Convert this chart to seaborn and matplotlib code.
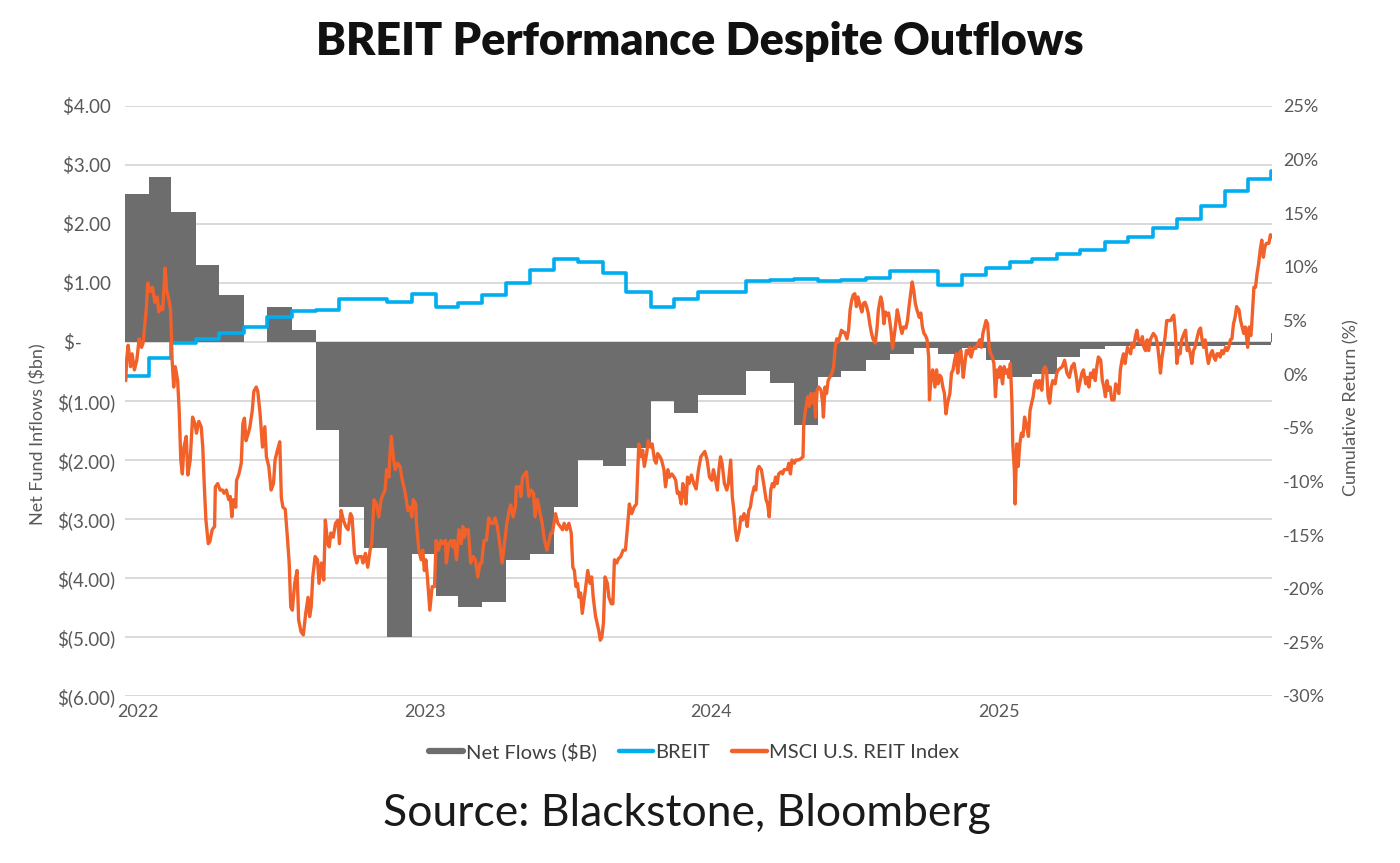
import numpy as np
import pandas as pd
import matplotlib
matplotlib.use("Agg")
import matplotlib.pyplot as plt
import matplotlib.transforms as mtrans
from matplotlib.lines import Line2D
import seaborn as sns

# ---------------- data ----------------
month_starts = pd.date_range("2022-01-01", periods=48, freq="MS")

net_flows = [2.5, 2.8, 2.2, 1.3, 0.8, 0.0, 0.6, 0.2,
             -1.5, -2.8, -3.5, -5.0,
             -3.6, -4.3, -4.5, -4.4, -3.7, -3.6, -2.8, -2.0, -2.1, -1.8, -1.0, -1.2,
             -0.9, -0.9, -0.5, -0.7, -1.4, -0.6, -0.5, -0.3, -0.2, -0.1, -0.2, -0.1,
             -0.3, -0.6, -0.55, -0.25, -0.12, -0.07, -0.07, -0.07, -0.07, -0.06, -0.05, -0.05]
net_flow_final = 0.15

breit = [-0.2, 1.5, 2.9, 3.3, 3.8, 4.4, 5.3, 5.9, 6.0, 7.0, 7.0, 6.7,
         7.5, 6.3, 6.6, 7.4, 8.5, 9.7, 10.7, 10.5, 9.4, 7.7, 6.3, 7.0,
         7.7, 7.7, 8.7, 8.8, 8.9, 8.7, 8.8, 9.0, 9.6, 9.6, 8.3, 9.2,
         9.9, 10.5, 10.7, 11.2, 11.6, 12.3, 12.8, 13.6, 14.5, 15.7, 17.1, 18.2]
breit_final = 18.9

final_date = "2025-12-30"
end_date = "2025-12-31"

msci_start = "2022-01-02"
msci_day = [0, 1, 3, 6, 8, 11, 14, 17, 20, 22, 24, 26, 28, 31, 34, 37, 40, 42, 45, 47, 50, 52, 55, 57, 59, 61, 63, 66, 68, 70,
            72, 74, 77, 79, 82, 85, 88, 90, 93, 96, 98, 100, 102, 105, 107, 110, 113, 114, 117, 120, 123, 125, 128, 131, 133,
            135, 137, 140, 141, 144, 147, 149, 151, 153, 156, 158, 161, 163, 166, 168, 171, 174, 177, 179, 182, 185, 188, 190,
            193, 196, 198, 200, 203, 206, 208, 210, 212, 215, 218, 220, 223, 226, 229, 232, 234, 236, 238, 241, 244, 246, 249,
            252, 254, 257, 259, 261, 264, 267, 270, 272, 274, 277, 280, 283, 286, 288, 291, 294, 296, 300, 302, 305, 308, 311,
            313, 316, 319, 322, 325, 328, 330, 332, 335, 336, 338, 341, 343, 346, 349, 352, 355, 357, 359, 362, 364, 366, 369,
            370, 373, 376, 378, 380, 382, 384, 387, 390, 393, 395, 398, 401, 403, 407, 408, 411, 414, 416, 418, 421, 424, 427,
            429, 431, 433, 436, 439, 442, 445, 448, 451, 453, 456, 459, 462, 465, 468, 470, 473, 476, 479, 482, 485, 488, 490,
            493, 496, 497, 501, 503, 505, 508, 510, 513, 516, 519, 521, 524, 527, 530, 533, 536, 538, 541, 543, 547, 550, 553,
            556, 558, 561, 564, 567, 569, 571, 573, 575, 577, 579, 581, 585, 588, 591, 593, 595, 598, 599, 602, 604, 606, 608,
            610, 613, 615, 618, 620, 622, 625, 627, 630, 633, 636, 639, 641, 644, 647, 650, 653, 656, 658, 660, 663, 665, 668,
            670, 673, 675, 677, 680, 682, 685, 687, 690, 692, 695, 698, 700, 702, 704, 707, 709, 711, 713, 715, 717, 720, 723,
            726, 729, 732, 735, 737, 740, 743, 746, 748, 750, 753, 755, 757, 759, 762, 765, 767, 770, 772, 774, 776, 778, 781,
            783, 785, 787, 789, 791, 793, 795, 797, 800, 802, 804, 806, 809, 812, 815, 817, 819, 821, 823, 825, 827, 829, 831,
            834, 836, 838, 840, 842, 844, 846, 848, 851, 853, 856, 859, 862, 863, 865, 868, 870, 872, 874, 876, 878, 880, 882,
            885, 887, 888, 890, 892, 894, 896, 899, 901, 903, 905, 907, 909, 911, 913, 915, 918, 920, 922, 924, 926, 928, 930,
            932, 935, 937, 939, 941, 943, 945, 947, 949, 951, 954, 956, 958, 961, 963, 965, 967, 969, 971, 974, 976, 978, 980,
            982, 984, 986, 988, 990, 993, 995, 997, 999, 1001, 1003, 1005, 1007, 1010, 1012, 1014, 1016, 1018, 1020, 1022, 1023,
            1025, 1027, 1030, 1032, 1034, 1036, 1038, 1040, 1042, 1044, 1046, 1049, 1051, 1053, 1055, 1057, 1059, 1061, 1063,
            1066, 1068, 1070, 1072, 1074, 1076, 1078, 1080, 1082, 1085, 1087, 1089, 1091, 1093, 1095, 1097, 1099, 1101, 1103,
            1105, 1107, 1109, 1111, 1113, 1116, 1118, 1120, 1122, 1124, 1126, 1128, 1129, 1131, 1132, 1134, 1136, 1138, 1140,
            1142, 1144, 1146, 1149, 1151, 1153, 1155, 1157, 1159, 1161, 1163, 1166, 1168, 1170, 1172, 1174, 1176, 1178, 1180,
            1183, 1185, 1187, 1192, 1195, 1198, 1201, 1204, 1207, 1210, 1212, 1214, 1217, 1219, 1222, 1224, 1226, 1228, 1230,
            1232, 1234, 1236, 1238, 1241, 1243, 1245, 1247, 1249, 1251, 1253, 1255, 1258, 1260, 1262, 1264, 1266, 1268, 1270,
            1272, 1275, 1277, 1279, 1281, 1283, 1285, 1287, 1289, 1292, 1294, 1296, 1298, 1300, 1302, 1304, 1306, 1308, 1311,
            1313, 1315, 1317, 1319, 1321, 1323, 1325, 1328, 1330, 1332, 1334, 1336, 1338, 1340, 1342, 1344, 1347, 1349, 1351,
            1353, 1355, 1357, 1359, 1361, 1363, 1366, 1368, 1370, 1372, 1374, 1376, 1378, 1381, 1383, 1385, 1387, 1389, 1391,
            1393, 1395, 1397, 1400, 1402, 1404, 1406, 1408, 1410, 1412, 1414, 1417, 1419, 1421, 1423, 1425, 1427, 1428, 1430,
            1432, 1433, 1436, 1438, 1440, 1442, 1444, 1446, 1448, 1450, 1452, 1455, 1457, 1459]
msci_pct = [-0.6, 1.3, 2.7, 0.7, 1.9, 0.4, 1.3, 3.3, 2.5, 2.9, 4.4, 6.0, 8.5, 7.7, 8.1, 6.7, 7.2, 5.8, 6.3, 6.0, 9.9, 7.8, 6.9, 6.0,
            1.3, -1.2, 0.7, -0.6, -3.4, -8.0, -9.3, -6.8, -5.8, -9.4, -8.0, -4.0, -4.6, -5.5, -4.4, -4.9, -6.8, -10.5, -13.6,
            -15.8, -15.6, -14.5, -14.2, -10.5, -10.2, -10.8, -10.8, -11.1, -10.8, -11.7, -11.4, -13.3, -11.7, -12.4, -9.9, -9.3,
            -8.3, -4.6, -4.1, -6.2, -5.5, -4.9, -3.4, -1.6, -1.2, -1.6, -3.7, -6.8, -4.9, -7.7, -8.6, -10.8, -10.2, -8.0, -7.1,
            -6.3, -11.5, -12.4, -12.6, -15.5, -17.6, -21.7, -22.0, -19.5, -18.3, -22.9, -24.0, -24.3, -22.3, -20.8, -22.6, -21.7,
            -18.9, -17.0, -17.3, -19.5, -17.6, -19.2, -13.6, -15.8, -16.1, -14.8, -15.2, -13.9, -13.6, -15.8, -12.7, -13.6, -14.2,
            -14.5, -13.0, -13.3, -16.7, -17.6, -17.0, -17.0, -17.6, -16.7, -18.0, -16.4, -15.8, -11.7, -12.1, -13.3, -11.7, -11.1,
            -10.8, -8.9, -9.6, -7.7, -5.8, -8.0, -8.9, -8.3, -8.6, -9.9, -10.8, -11.7, -12.7, -12.4, -13.3, -11.7, -12.1, -13.9,
            -16.4, -17.3, -16.4, -18.3, -17.3, -19.0, -22.0, -19.8, -19.8, -15.5, -16.4, -15.5, -15.8, -15.5, -17.6, -15.8, -15.5,
            -16.1, -15.5, -17.3, -14.5, -15.8, -14.2, -15.2, -14.5, -14.5, -17.6, -17.0, -17.3, -18.9, -17.6, -17.6, -15.5, -15.5,
            -13.4, -13.9, -13.9, -13.4, -14.2, -15.8, -17.6, -15.8, -13.9, -12.7, -12.2, -13.3, -12.4, -10.5, -10.5, -11.4, -9.6,
            -9.3, -9.1, -11.4, -10.8, -11.1, -13.3, -11.7, -12.8, -13.9, -15.5, -16.4, -15.8, -14.8, -14.8, -13.0, -13.9, -14.2,
            -14.5, -13.9, -14.5, -13.9, -14.8, -18.0, -18.3, -19.8, -19.5, -20.8, -20.4, -22.3, -20.1, -18.3, -19.5, -18.9, -20.8,
            -22.6, -22.9, -23.9, -24.8, -24.5, -23.2, -18.9, -19.5, -20.8, -21.4, -21.4, -17.3, -17.6, -17.2, -17.0, -16.4, -16.4,
            -13.9, -12.1, -13.0, -12.4, -12.1, -6.5, -7.7, -7.1, -8.6, -7.4, -6.2, -6.8, -6.5, -8.0, -8.3, -7.4, -7.7, -8.0, -8.9,
            -10.5, -8.9, -9.6, -9.3, -9.6, -9.9, -11.1, -11.0, -12.1, -10.2, -10.8, -12.1, -9.6, -10.2, -9.4, -10.2, -10.7, -8.9,
            -7.7, -7.4, -7.2, -8.0, -9.6, -9.9, -8.9, -9.6, -10.8, -8.9, -7.7, -8.3, -10.2, -10.8, -10.2, -8.0, -11.4, -12.7, -14.5,
            -15.5, -14.5, -13.3, -13.6, -13.0, -13.3, -14.2, -12.7, -12.4, -11.4, -10.5, -10.8, -8.9, -8.6, -8.9, -10.2, -11.7,
            -12.1, -13.3, -10.8, -10.2, -10.5, -9.6, -10.2, -9.3, -9.1, -9.3, -8.9, -8.9, -8.9, -8.3, -9.3, -8.0, -8.3, -8.0, -8.0,
            -7.9, -7.7, -4.6, -3.4, -2.1, -3.0, -1.8, -2.7, -1.8, -4.0, -1.5, -1.2, -1.5, -2.7, -4.0, -1.2, -1.8, -0.6, -0.3, 0.1,
            0.7, 2.5, 3.3, 3.0, 3.5, 4.1, 3.9, 3.9, 3.3, 4.1, 6.0, 6.9, 7.4, 7.5, 6.3, 7.2, 6.3, 5.8, 6.6, 6.7, 6.3, 5.7, 4.7, 3.9,
            3.3, 2.9, 4.1, 6.0, 7.2, 6.6, 4.7, 5.8, 5.5, 5.7, 4.1, 2.4, 3.5, 4.7, 6.0, 5.3, 4.4, 3.8, 4.4, 4.3, 5.0, 6.3, 7.5, 8.6,
            7.8, 6.6, 6.0, 5.3, 5.7, 4.4, 3.8, 3.6, 3.2, 1.6, -2.4, -0.3, 0.4, -1.2, 0.4, -0.9, -0.1, -0.3, -1.2, -1.8, -3.7, -2.7,
            -1.8, 0.1, 0.4, 1.3, 1.9, 0.1, 1.9, 2.2, -0.3, 1.0, 2.2, 1.9, 2.5, 1.6, 2.2, 2.5, 2.4, 2.9, 3.2, 2.5, 3.8, 4.4, 5.0,
            4.7, 2.5, 1.9, 1.6, 1.0, -2.1, 0.4, -0.3, 0.7, -0.9, 0.7, 0.1, 0.4, -0.3, 1.0, -2.7, -6.5, -8.9, -12.1, -6.5, -8.6,
            -6.5, -5.5, -5.8, -4.0, -4.6, -5.8, -3.4, -2.7, -2.1, -0.9, -0.6, -1.3, -0.6, -1.5, 0.4, 0.7, 0.4, -2.1, -2.7, -1.2,
            -0.6, -0.9, 0.1, 0.4, 0.7, 1.3, 0.1, -0.3, 0.7, 1.0, -0.3, -1.6, -0.9, 0.1, 0.4, -0.9, -0.3, -1.2, 0.1, -0.3, 0.4,
            -0.6, 0.7, 1.6, 1.3, -0.6, -1.2, -2.1, -0.6, -1.5, -1.2, -2.4, -2.4, -0.9, -1.2, -1.8, 0.4, 1.3, 1.9, 1.0, 2.5, 2.2,
            1.9, 2.9, 2.5, 3.5, 4.1, 3.2, 2.9, 3.5, 2.5, 2.2, 3.2, 2.2, 3.2, 3.5, 3.8, 3.5, 2.9, 1.6, 0.1, 1.6, 2.5, 3.5, 5.0, 5.0,
            5.0, 5.3, 5.5, 3.8, 1.0, 2.2, 1.9, 3.2, 3.8, 4.1, 2.2, 2.5, 1.9, 1.0, 2.2, 2.5, 3.2, 4.1, 4.3, 3.2, 2.5, 3.2, 1.9, 1.0,
            1.9, 2.2, 1.6, 1.3, 1.9, 1.9, 1.6, 2.2, 1.9, 2.5, 2.2, 2.5, 3.2, 3.3, 4.7, 5.3, 6.3, 6.0, 5.0, 4.4, 3.8, 4.4, 3.2, 2.5,
            4.4, 3.6, 4.4, 8.1, 8.1, 9.4, 10.3, 11.6, 12.5, 10.9, 11.9, 12.2, 12.2, 13.0, 12.8]

flow_ticks = [4, 3, 2, 1, 0, -1, -2, -3, -4, -5, -6]
flow_tick_labels = ["$4.00 ", "$3.00 ", "$2.00 ", "$1.00 ", "$-       ", "$(1.00)", "$(2.00)", "$(3.00)",
                    "$(4.00)", "$(5.00)", "$(6.00)"]
ret_ticks = [25, 20, 15, 10, 5, 0, -5, -10, -15, -20, -25, -30]
ret_tick_labels = ["25%", "20%", "15%", "10%", "5%", "0%", "-5%", "-10%", "-15%", "-20%", "-25%", "-30%"]
year_ticks = ["2022-01-01", "2023-01-01", "2024-01-01", "2025-01-01"]
year_labels = ["2022", "2023", "2024", "2025"]

# ---------------- build frames ----------------
step_dates = list(month_starts) + [pd.Timestamp(final_date), pd.Timestamp(end_date)]
flows_df = pd.DataFrame({"date": step_dates,
                         "flow": net_flows + [net_flow_final, net_flow_final]})
breit_df = pd.DataFrame({"date": step_dates,
                         "ret": breit + [breit_final, breit_final]})
msci_df = pd.DataFrame({"date": pd.Timestamp(msci_start) + pd.to_timedelta(msci_day, unit="D"),
                        "ret": msci_pct})

# ---------------- style ----------------
sns.set_theme(style="white")
plt.rcParams["font.family"] = ["Lato", "DejaVu Sans"]

GRAY = "#6d6d6d"
BLUE = "#00aeef"
ORANGE = "#f26129"
TICK = "#595959"

fig = plt.figure(figsize=(14, 8.63), dpi=100)
ax = fig.add_axes([125 / 1400, 1 - 696 / 863, 1147 / 1400, 590 / 863])
ax2 = ax.twinx()

ax.fill_between(flows_df["date"], 0, flows_df["flow"], step="post", color=GRAY, lw=0, zorder=2)
ax.set_ylim(-6, 4)
ax.set_yticks(flow_ticks)
ax.set_yticklabels(flow_tick_labels)
ax.grid(axis="y", color="#d9d9d9", lw=1.4, zorder=0)
ax.grid(axis="x", visible=False)
ax.set_axisbelow(True)

sns.lineplot(data=breit_df, x="date", y="ret", ax=ax2, color=BLUE, lw=2.6,
             drawstyle="steps-post", estimator=None)
sns.lineplot(data=msci_df, x="date", y="ret", ax=ax2, color=ORANGE, lw=2.4, estimator=None)
ax2.set_ylim(-30, 25)
ax2.set_yticks(ret_ticks)
ax2.set_yticklabels(ret_tick_labels)
ax2.set_xlabel("")
ax2.set_ylabel("")
ax2.grid(False)

xmin, xmax = pd.Timestamp("2022-01-01"), pd.Timestamp("2025-12-31")
ax.set_xlim(xmin, xmax)
ax2.set_xlim(xmin, xmax)
ax.set_xticks(pd.to_datetime(year_ticks))
ax.set_xticklabels(year_labels)

for a in (ax, ax2):
    for s in a.spines.values():
        s.set_visible(False)
    a.tick_params(length=0)

ax.tick_params(axis="y", labelsize=13.5, labelcolor=TICK, pad=7)
ax2.tick_params(axis="y", labelsize=13, labelcolor=TICK, pad=8)
ax.tick_params(axis="x", labelsize=13, labelcolor=TICK, pad=6)
shift = mtrans.ScaledTranslation(13 / 100, 0, fig.dpi_scale_trans)
for lab in ax.get_xticklabels():
    lab.set_transform(lab.get_transform() + shift)

ax.set_ylabel("Net Fund Inflows ($bn)", fontsize=13, color=TICK)
ax2.set_ylabel("Cumulative Return (%)", fontsize=13, color=TICK)
ax.yaxis.set_label_coords(46 / 1400, 0.497, transform=fig.transFigure)
ax2.yaxis.set_label_coords(1343 / 1400, 1 - 408 / 863, transform=fig.transFigure)

fig.text(700 / 1400, 1 - 42 / 863, "BREIT Performance Despite Outflows", ha="center", va="center",
         fontsize=32.3, fontweight="heavy", color="#111111")
fig.text(687 / 1400, 1 - 813 / 863, "Source: Blackstone, Bloomberg", ha="center", va="center",
         fontsize=32, fontweight="normal", color="#1a1a1a")

handles = [Line2D([0], [0], color=GRAY, lw=4.5),
           Line2D([0], [0], color=BLUE, lw=3.2),
           Line2D([0], [0], color=ORANGE, lw=3.2)]
fig.legend(handles, ["Net Flows ($B)", "BREIT", "MSCI U.S. REIT Index"], loc="center",
           bbox_to_anchor=(694 / 1400, 1 - 752 / 863), ncol=3, frameon=False, fontsize=14.5,
           handlelength=1.7, handletextpad=0.12, columnspacing=1.1, labelcolor="#404040")

fig.savefig("out.png", dpi=100)
